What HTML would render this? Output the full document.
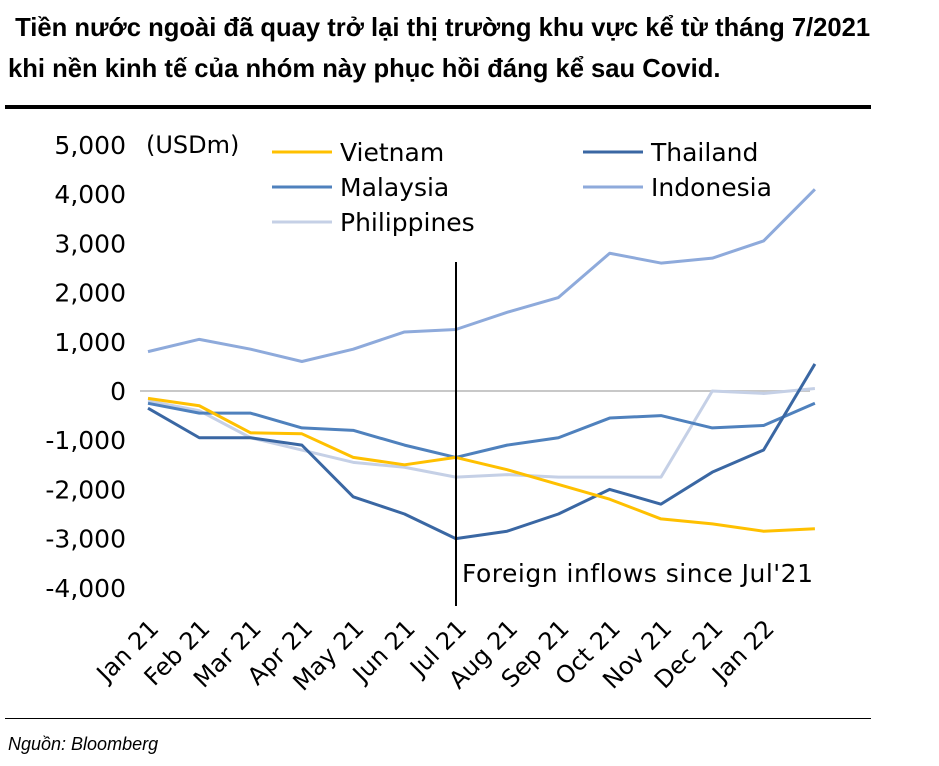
<!DOCTYPE html>
<html><head><meta charset="utf-8"><style>
body{margin:0;width:939px;height:766px;background:#fff;font-family:"Liberation Sans",sans-serif;overflow:hidden;position:relative}
.t{position:absolute;left:8px;top:8px;font-weight:bold;font-size:25.6px;line-height:41px;color:#000;white-space:nowrap}
svg text{font-family:"DejaVu Sans",sans-serif}
</style></head><body>
<div class="t">&nbsp;Tiền nước ngoài đã quay trở lại thị trường khu vực kể từ tháng 7/2021<br>khi nền kinh tế của nhóm này phục hồi đáng kể sau Covid.</div>
<div style="position:absolute;left:5px;top:105px;width:866px;height:4px;background:#000"></div>
<div style="position:absolute;left:5px;top:718px;width:866px;height:1px;background:#000"></div>
<div style="position:absolute;left:8px;top:734px;font-style:italic;font-size:18px">Nguồn: Bloomberg</div>
<svg id="c" width="939" height="766" style="position:absolute;left:0;top:0"></svg>
<script>
const categories=["Jan 21","Feb 21","Mar 21","Apr 21","May 21","Jun 21","Jul 21","Aug 21","Sep 21","Oct 21","Nov 21","Dec 21","Jan 22",""];
const yTicks=[5000,4000,3000,2000,1000,0,-1000,-2000,-3000,-4000];
const vietnam=[-150,-300,-850,-870,-1350,-1500,-1350,-1600,-1900,-2200,-2600,-2700,-2850,-2800];
const thailand=[-350,-950,-950,-1100,-2150,-2500,-3000,-2850,-2500,-2000,-2300,-1650,-1200,550];
const malaysia=[-250,-450,-450,-750,-800,-1100,-1350,-1100,-950,-550,-500,-750,-700,-250];
const indonesia=[800,1050,850,600,850,1200,1250,1600,1900,2800,2600,2700,3050,4100];
const philippines=[-200,-400,-950,-1200,-1450,-1550,-1750,-1700,-1750,-1750,-1750,0,-50,50];
const svg=document.getElementById('c');const NS='http://www.w3.org/2000/svg';
const x=i=>148+i*51.3;const y=v=>391-v*0.0492;
function mk(t,a,p){const e=document.createElementNS(NS,t);for(const k in a)e.setAttribute(k,a[k]);(p||svg).appendChild(e);return e;}
const zl=mk('line',{x1:140,x2:810,y1:y(0),y2:y(0),stroke:'#c8c8c8','stroke-width':2});

yTicks.forEach(v=>{const t=mk('text',{x:126,y:y(v)+9,'text-anchor':'end','font-size':25,fill:'#000'});t.textContent=v.toLocaleString('en-US');
});
const u=mk('text',{x:146,y:153,'font-size':24});u.textContent='(USDm)';
categories.forEach((c,i)=>{if(!c)return;const t=mk('text',{transform:`translate(${x(i)+12},${630}) rotate(-45)`,'text-anchor':'end','font-size':24});t.textContent=c;
});
const series=[["philippines",philippines,'#c5d0e6'],["indonesia",indonesia,'#8eaadb'],["malaysia",malaysia,'#4f81bd'],["thailand",thailand,'#3a67a3'],["vietnam",vietnam,'#ffc000']];
series.forEach(([n,d,col])=>{const p=mk('polyline',{points:d.map((v,i)=>x(i)+','+y(v)).join(' '),fill:'none',stroke:col,'stroke-width':3,'stroke-linejoin':'round'});
});
const vl=mk('line',{x1:456,x2:456,y1:262,y2:606,stroke:'#000','stroke-width':2});
const an=mk('text',{x:462,y:582,'font-size':25,'letter-spacing':0.5});an.textContent="Foreign inflows since  Jul'21";
const leg=[["Vietnam",'#ffc000',272,161],["Thailand",'#3a67a3',583,161],["Malaysia",'#4f81bd',272,196],["Indonesia",'#8eaadb',583,196],["Philippines",'#c5d0e6',272,231]];
leg.forEach(([n,col,lx,ly])=>{const g=mk('g',{});
mk('line',{x1:lx,x2:lx+60,y1:ly-9,y2:ly-9,stroke:col,'stroke-width':3},g);const t=mk('text',{x:lx+68,y:ly,'font-size':25},g);t.textContent=n;});
</script>
</body></html>
